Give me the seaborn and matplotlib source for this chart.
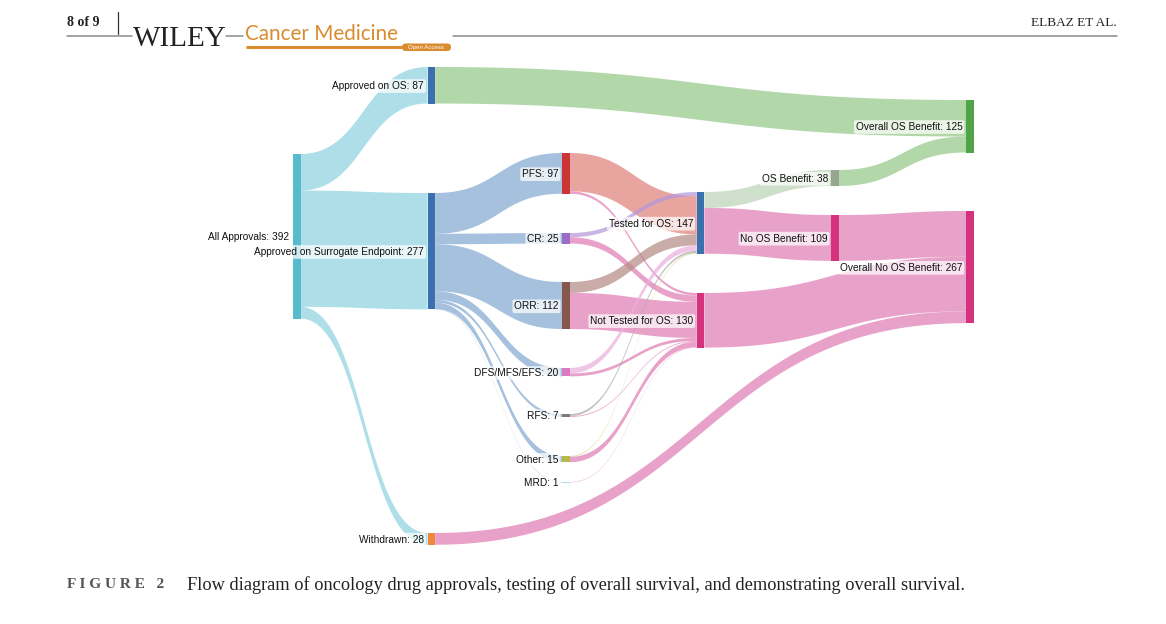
import numpy as np
import matplotlib
matplotlib.use("Agg")
import matplotlib.pyplot as plt
import seaborn as sns
from matplotlib.patches import Polygon, Rectangle, FancyBboxPatch
import matplotlib.colors as mcolors

# ---------------- data ----------------
node_labels = ["All Approvals", "Approved on OS", "Approved on Surrogate Endpoint", "Withdrawn",
               "PFS", "CR", "ORR", "DFS/MFS/EFS", "RFS", "Other", "MRD",
               "Tested for OS", "Not Tested for OS", "OS Benefit", "No OS Benefit",
               "Overall OS Benefit", "Overall No OS Benefit"]

link_source = ["All Approvals", "All Approvals", "All Approvals",
               "Approved on OS",
               "Approved on Surrogate Endpoint", "Approved on Surrogate Endpoint",
               "Approved on Surrogate Endpoint", "Approved on Surrogate Endpoint",
               "Approved on Surrogate Endpoint", "Approved on Surrogate Endpoint",
               "Approved on Surrogate Endpoint",
               "PFS", "PFS", "CR", "CR", "ORR", "ORR", "DFS/MFS/EFS", "DFS/MFS/EFS",
               "RFS", "RFS", "Other", "Other", "MRD",
               "Tested for OS", "Tested for OS", "OS Benefit", "No OS Benefit",
               "Not Tested for OS", "Withdrawn"]
link_target = ["Approved on OS", "Approved on Surrogate Endpoint", "Withdrawn",
               "Overall OS Benefit",
               "PFS", "CR", "ORR", "DFS/MFS/EFS", "RFS", "Other", "MRD",
               "Tested for OS", "Not Tested for OS", "Tested for OS", "Not Tested for OS",
               "Tested for OS", "Not Tested for OS", "Tested for OS", "Not Tested for OS",
               "Tested for OS", "Not Tested for OS", "Tested for OS", "Not Tested for OS",
               "Not Tested for OS",
               "OS Benefit", "No OS Benefit", "Overall OS Benefit", "Overall No OS Benefit",
               "Overall No OS Benefit", "Overall No OS Benefit"]
link_value = [87, 277, 28,
              87,
              97, 25, 112, 20, 7, 15, 1,
              91, 6, 10, 15, 26, 86, 13, 7,
              5, 2, 2, 13, 1,
              38, 109, 38, 109,
              130, 28]

# ---------------- layout / style ----------------
node_col = [0, 1, 1, 1, 2, 2, 2, 2, 2, 2, 2, 3, 3, 4, 4, 5, 5]
node_top = [154, 67, 193, 533, 153, 233, 282, 368, 414, 456, 482, 192, 293, 170, 215, 100, 211]
node_colors = ["#56bccd", "#3b70ae", "#3b70ae", "#f0883a",
               "#cc3535", "#9a6cc4", "#87564c", "#dc7ac0", "#7a7a7a", "#b9b94a", "#a8dde6",
               "#3b70ae", "#d4327c", "#97a68e", "#d4327c", "#4ea447", "#d4327c"]
link_colors = ["#aedfe9", "#aedfe9", "#aedfe9",
               "#b3d8aa",
               "#a6c1de", "#a6c1de", "#a6c1de", "#a6c1de", "#a6c1de", "#a6c1de", "#a6c1de",
               "#e9a6a0", "#e9a3c9", "#c8b4e6", "#e9a3c9", "#c9ada8", "#e9a3c9",
               "#f0c6e6", "#e9a3c9", "#c2c2c2", "#e9a3c9", "#dfe0a0", "#e9a3c9", "#e9a3c9",
               "#cfdfcb", "#e9a3c9", "#b3d8aa", "#e9a3c9", "#e9a3c9", "#e9a3c9"]
in_priority = {("CR", "Tested for OS"): -1}
LINK_ALPHA = 0.72
COL_X0, COL_DX, NODE_W, PX_PER_UNIT = 293.0, 134.6, 7.5, 0.42

sns.set_theme(style="white")
plt.rcParams['font.family'] = ['Liberation Sans', 'DejaVu Sans']

fig = plt.figure(figsize=(11.66, 6.24), dpi=100)
ax = fig.add_axes([0, 0, 1, 1])
ax.set_xlim(0, 1166)
ax.set_ylim(624, 0)
ax.axis('off')

idx = {n: i for i, n in enumerate(node_labels)}
n_nodes = len(node_labels)
inflow = np.zeros(n_nodes)
outflow = np.zeros(n_nodes)
for s, t, v in zip(link_source, link_target, link_value):
    outflow[idx[s]] += v
    inflow[idx[t]] += v
node_value = np.maximum(inflow, outflow)
node_x = [COL_X0 + c * COL_DX for c in node_col]


def base_color(hexc, a):
    rgb = np.array(mcolors.to_rgb(hexc))
    return tuple(np.clip(1 - (1 - rgb) / a, 0, 1))


# outgoing offsets (ordered by target top), incoming (ordered by source top)
link_ids = list(range(len(link_value)))
src_y0 = {}
tgt_y0 = {}
for n in node_labels:
    outs = [k for k in link_ids if link_source[k] == n]
    outs.sort(key=lambda k: node_top[idx[link_target[k]]])
    off = node_top[idx[n]]
    for k in outs:
        src_y0[k] = off
        off += link_value[k] * PX_PER_UNIT
    ins = [k for k in link_ids if link_target[k] == n]
    ins.sort(key=lambda k: (in_priority.get((link_source[k], n), 0), node_top[idx[link_source[k]]]))
    off = node_top[idx[n]]
    for k in ins:
        tgt_y0[k] = off
        off += link_value[k] * PX_PER_UNIT

t = np.linspace(0, 1, 80)
b0 = (1 - t) ** 3
b1 = 3 * (1 - t) ** 2 * t
b2 = 3 * (1 - t) * t ** 2
b3 = t ** 3
for k in link_ids:
    s, g = idx[link_source[k]], idx[link_target[k]]
    x0 = node_x[s] + NODE_W
    x1 = node_x[g]
    xm = (x0 + x1) / 2
    xs = b0 * x0 + (b1 + b2) * xm + b3 * x1
    h = link_value[k] * PX_PER_UNIT
    ya, yb = src_y0[k], tgt_y0[k]
    ytop = (b0 + b1) * ya + (b2 + b3) * yb
    ybot = ytop + h
    pts = np.concatenate([np.column_stack([xs, ytop]), np.column_stack([xs[::-1], ybot[::-1]])])
    ax.add_patch(Polygon(pts, closed=True, facecolor=base_color(link_colors[k], LINK_ALPHA),
                         alpha=LINK_ALPHA, edgecolor='none', zorder=1))

for i, n in enumerate(node_labels):
    h = max(node_value[i] * PX_PER_UNIT, 1.0)
    ax.add_patch(Rectangle((node_x[i], node_top[i]), NODE_W, h, facecolor=node_colors[i],
                           edgecolor='none', zorder=3))
    ax.text(node_x[i] - 3.5, node_top[i] + h / 2 + 0.8, f"{n}: {int(node_value[i])}", ha='right',
            va='center', fontsize=7.3, color='#111111', zorder=4,
            bbox=dict(boxstyle='round,pad=0.18', fc='white', ec='none', alpha=0.72))

# ---------------- page header ----------------
serif = ['Liberation Serif', 'DejaVu Serif']
ax.text(67, 23, "8 of 9", fontsize=10, fontweight='bold', family=serif, ha='left', va='center', color='#222222')
ax.plot([118, 118], [12, 34], color='#333333', lw=0.9)
line_c = '#8a8a8a'
ax.plot([67, 132], [36, 36], color=line_c, lw=1.1)
ax.plot([226, 243], [36, 36], color=line_c, lw=1.1)
ax.plot([453, 1117], [36, 36], color=line_c, lw=1.1)
ax.text(133, 46, "WILEY", fontsize=21, family=serif, ha='left', va='baseline', color='#222222')
orange = '#d98b2e'
ax.text(245, 40, "Cancer Medicine", fontsize=14.9, family=['Lato', 'DejaVu Sans'], ha='left',
        va='baseline', color=orange)
ax.plot([246, 402], [47, 47], color=orange, lw=2.2, solid_capstyle='butt')
ax.add_patch(FancyBboxPatch((402, 43.5), 49, 7.5, boxstyle='round,pad=0,rounding_size=3.7',
                            fc=orange, ec='none'))
ax.text(426.5, 47.4, "Open Access", fontsize=4.4, color='white', ha='center', va='center')
ax.text(1117, 23, "ELBAZ ET AL.", fontsize=9.5, family=serif, ha='right', va='center', color='#222222')

# ---------------- caption ----------------
ax.text(67, 585, "F I G U R E   2", fontsize=11, fontweight='bold', family=serif, ha='left',
        va='center', color='#555555')
ax.text(187, 585, "Flow diagram of oncology drug approvals, testing of overall survival, and demonstrating overall survival.",
        fontsize=13.2, family=serif, ha='left', va='center', color='#222222')

fig.savefig("out.png", dpi=100)
